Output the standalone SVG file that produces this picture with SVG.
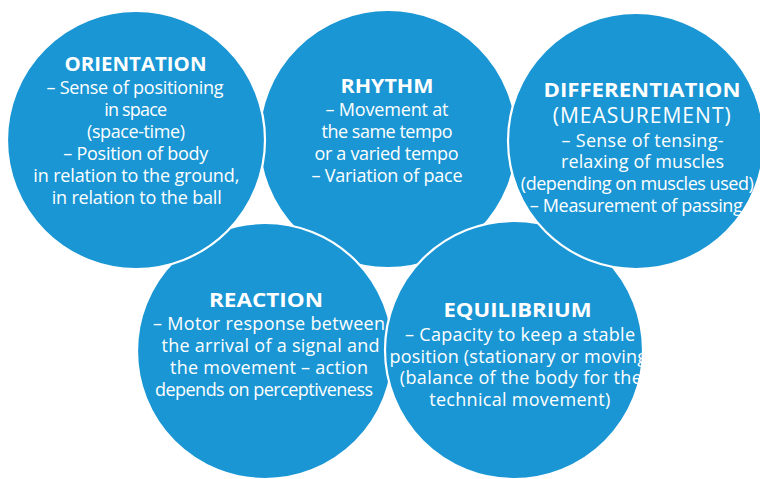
<svg xmlns="http://www.w3.org/2000/svg" width="760" height="479" viewBox="0 0 760 479">
<style>
.c{fill:#1a96d4;stroke:#ffffff;stroke-width:2.2}
text{fill:#ffffff;font-family:"Open Sans","Noto Sans","Liberation Sans",sans-serif;text-anchor:middle}
.t{font-weight:700;font-size:19.5px}
.b{font-size:18px}
.m{font-size:21px}
</style>
<rect width="760" height="479" fill="#ffffff"/>
<g id="rhythm">
<circle class="c" cx="388" cy="139" r="129"/>
<text class="t" x="387" y="93" textLength="93" lengthAdjust="spacingAndGlyphs">RHYTHM</text>
<text class="b" x="387" y="115.5" textLength="123">– Movement at</text>
<text class="b" x="387" y="137.5" textLength="131">the same tempo</text>
<text class="b" x="386.5" y="159.5" textLength="144">or a varied tempo</text>
<text class="b" x="387" y="181.5" textLength="151">– Variation of pace</text>
</g>
<g id="reaction">
<circle class="c" cx="265" cy="351" r="128"/>
<text class="t" x="266" y="307" textLength="114" lengthAdjust="spacingAndGlyphs">REACTION</text>
<text class="b" x="269" y="330" textLength="232">– Motor response between</text>
<text class="b" x="270.5" y="352" textLength="218">the arrival of a signal and</text>
<text class="b" x="269" y="374" textLength="198">the movement – action</text>
<text class="b" x="264" y="396" textLength="218">depends on perceptiveness</text>
</g>
<g id="orientation">
<circle class="c" cx="136" cy="140" r="129"/>
<text class="t" x="135.5" y="71" textLength="142" lengthAdjust="spacingAndGlyphs">ORIENTATION</text>
<text class="b" x="135" y="93.5" textLength="177">– Sense of positioning</text>
<text class="b" x="135.7" y="115.5" textLength="63">in space</text>
<text class="b" x="136" y="137.5" textLength="98">(space-time)</text>
<text class="b" x="135.8" y="159.5" textLength="145">– Position of body</text>
<text class="b" x="136.3" y="181.5" textLength="206">in relation to the ground,</text>
<text class="b" x="136.7" y="203.5" textLength="170">in relation to the ball</text>
</g>
<g id="equilibrium">
<circle class="c" cx="514" cy="350" r="129"/>
<text class="t" x="517.5" y="317" textLength="148" lengthAdjust="spacingAndGlyphs">EQUILIBRIUM</text>
<text class="b" x="520" y="340.5" textLength="230">– Capacity to keep a stable</text>
<text class="b" x="521" y="362.5" textLength="263">position (stationary or moving)</text>
<text class="b" x="520.8" y="384.3" textLength="242">(balance of the body for the</text>
<text class="b" x="519.7" y="406" textLength="181">technical movement)</text>
</g>
<g id="differentiation">
<circle class="c" cx="636" cy="141" r="128"/>
<text class="t" x="642" y="97" textLength="197" lengthAdjust="spacingAndGlyphs">DIFFERENTIATION</text>
<text class="m" x="641.7" y="123" textLength="178">(MEASUREMENT)</text>
<text class="b" x="642.5" y="146.7" textLength="162">– Sense of tensing-</text>
<text class="b" x="642.5" y="168.3" textLength="163">relaxing of muscles</text>
<text class="b" x="637.3" y="190" textLength="233">(depending on muscles used)</text>
<text class="b" x="636.3" y="212.3" textLength="213">– Measurement of passing</text>
</g>
<g id="connectors"/>
</svg>
